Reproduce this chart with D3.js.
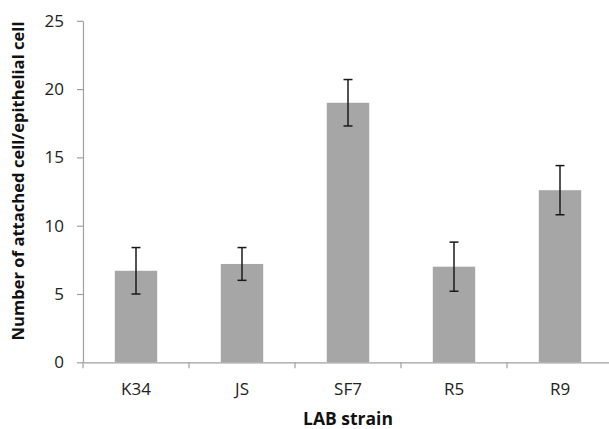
<!DOCTYPE html>
<html>
<head>
<meta charset="utf-8">
<script src="https://cdn.jsdelivr.net/npm/d3@7"></script>
<style>
  html, body { margin: 0; padding: 0; background: #fff; }
  svg { display: block; }
</style>
</head>
<body>
<svg id="chart" width="609" height="429"></svg>
<script>
const categories = ["K34", "JS", "SF7", "R5", "R9"];
const values = [6.7, 7.2, 19.0, 7.0, 12.6];
const errors = [1.7, 1.2, 1.7, 1.8, 1.8];
const yTicks = [0, 5, 10, 15, 20, 25];
const xTitle = "LAB strain";
const yTitle = "Number of attached cell/epithelial cell";

const svg = d3.select("#chart");
const fontFam = "'Open Sans', 'Noto Sans', sans-serif";
const plotLeft = 83, plotRight = 613, plotTop = 20.8, plotBottom = 362.3;

const x = d3.scaleBand().domain(categories).range([plotLeft, plotRight]).paddingInner(0.6).paddingOuter(0.3);
const xb = d3.scaleBand().domain(categories).range([plotLeft, plotRight]);
const y = d3.scaleLinear().domain([0, 25]).range([plotBottom, plotTop]);

const axisColor = "#a0a0a0";

// bars
svg.append("g").selectAll("rect").data(categories).join("rect")
  .attr("x", d => x(d))
  .attr("width", x.bandwidth())
  .attr("y", (d, i) => y(values[i]))
  .attr("height", (d, i) => y(0) - y(values[i]))
  .attr("fill", "#a6a6a6");

// y axis
const yAxis = svg.append("g").attr("transform", `translate(${plotLeft},0)`)
  .call(d3.axisLeft(y).tickValues(yTicks).tickSize(6).tickPadding(13).tickSizeOuter(0));
yAxis.select(".domain").attr("stroke", axisColor).attr("stroke-width", 1.2);
yAxis.selectAll(".tick line").attr("stroke", axisColor).attr("stroke-width", 1.2);
yAxis.selectAll(".tick text").attr("fill", "#222").style("font-family", fontFam).style("font-size", "17px");

// x axis
const xAxis = svg.append("g").attr("transform", `translate(0,${plotBottom})`)
  .call(d3.axisBottom(xb).tickSize(0).tickPadding(21).tickSizeOuter(0));
xAxis.select(".domain").attr("stroke", axisColor).attr("stroke-width", 1.2);
xAxis.selectAll(".tick text").attr("fill", "#222").style("font-family", fontFam).style("font-size", "17px");
// boundary ticks between categories
svg.append("g").selectAll("line").data(categories).join("line")
  .attr("x1", d => xb(d)).attr("x2", d => xb(d))
  .attr("y1", plotBottom).attr("y2", plotBottom + 6)
  .attr("stroke", axisColor).attr("stroke-width", 1.2);

// error bars
const eb = svg.append("g").attr("stroke", "#1a1a1a").attr("stroke-width", 1.5);
categories.forEach((c, i) => {
  const cx = x(c) + x.bandwidth() / 2;
  const yt = y(values[i] + errors[i]), yl = y(values[i] - errors[i]);
  eb.append("line").attr("x1", cx).attr("x2", cx).attr("y1", yt).attr("y2", yl);
  eb.append("line").attr("x1", cx - 4.5).attr("x2", cx + 4.5).attr("y1", yt).attr("y2", yt);
  eb.append("line").attr("x1", cx - 4.5).attr("x2", cx + 4.5).attr("y1", yl).attr("y2", yl);
});

// titles
svg.append("text").attr("x", (plotLeft + plotRight) / 2).attr("y", 425)
  .attr("text-anchor", "middle").attr("fill", "#111")
  .style("font-family", fontFam).style("font-size", "17.5px").style("font-weight", "bold")
  .text(xTitle);
svg.append("text").attr("transform", `translate(24,181) rotate(-90)`)
  .attr("text-anchor", "middle").attr("fill", "#111")
  .style("font-family", fontFam).style("font-size", "16.6px").style("font-weight", "bold")
  .text(yTitle);
</script>
</body>
</html>
